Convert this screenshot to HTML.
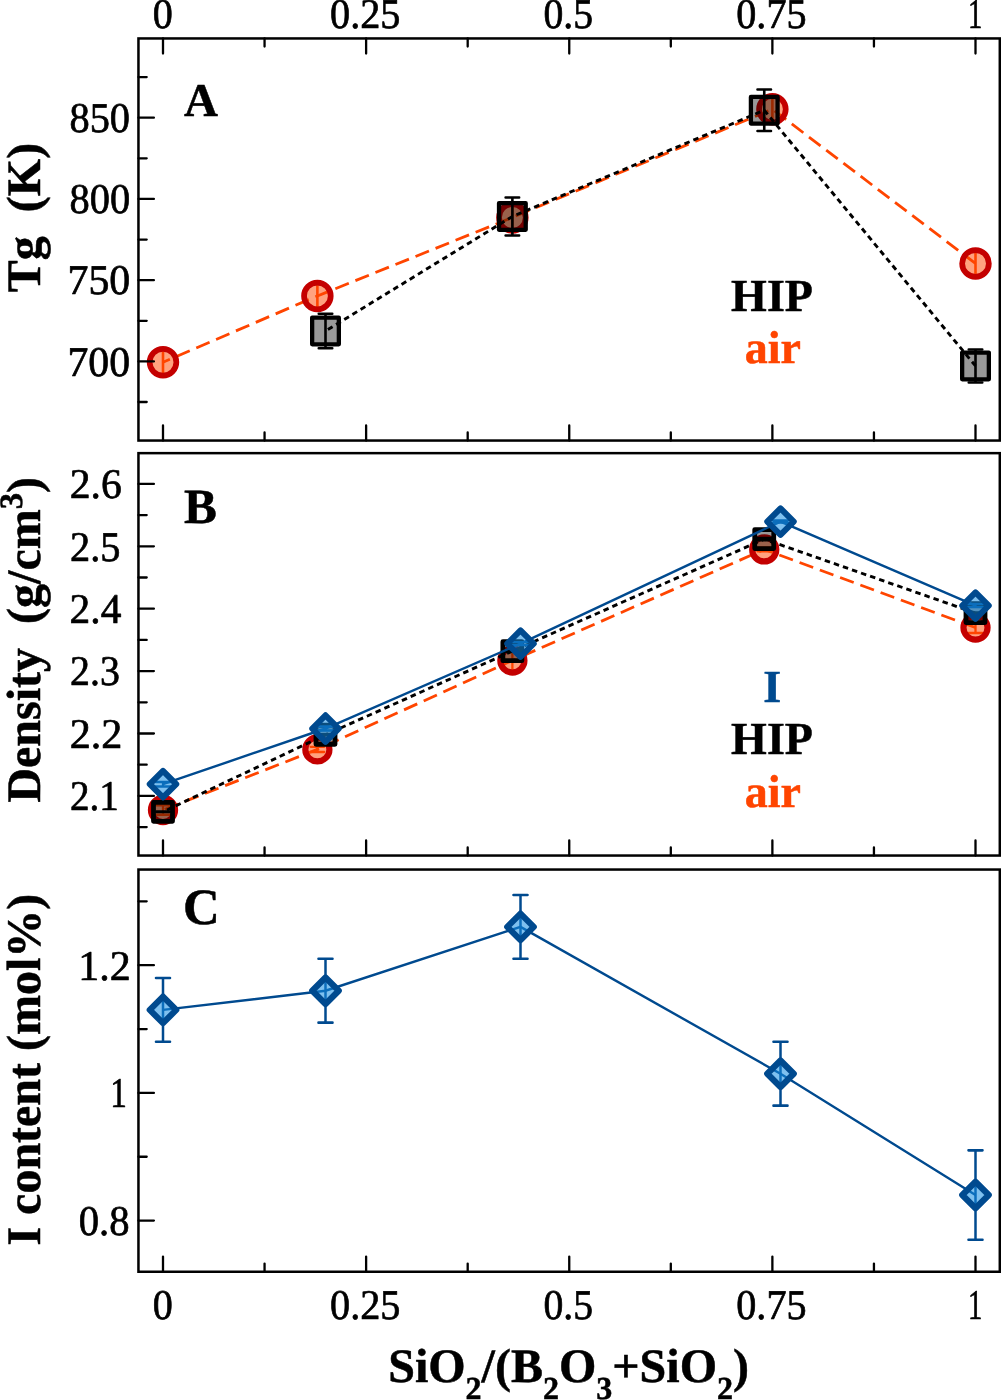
<!DOCTYPE html>
<html><head><meta charset="utf-8"><title>Chart</title>
<style>
html,body{margin:0;padding:0;background:#fff;}
body{width:1001px;height:1400px;overflow:hidden;}
svg{display:block;will-change:transform;}
text{font-family:"Liberation Serif",serif;text-rendering:geometricPrecision;}
</style></head><body>
<svg width="1001" height="1400" viewBox="0 0 1001 1400">
<rect width="1001" height="1400" fill="#fff"/>
<clipPath id="clipA"><rect x="138.45" y="38.45" width="861.35" height="402.1"/></clipPath>
<clipPath id="clipB"><rect x="138.45" y="453.15" width="861.35" height="402.4"/></clipPath>
<clipPath id="clipC"><rect x="138.45" y="869.55" width="861.35" height="402.2"/></clipPath>
<g clip-path="url(#clipA)">
<path d="M163 362.22L317.38 295.93L512.38 217.46L772.38 109.25L975.5 263.44" stroke="#ff4500" stroke-width="2.8" fill="none" stroke-dasharray="14.5 7.1" stroke-dashoffset="7"/>
<path d="M163 351.22V373.22" stroke="#ff4500" stroke-width="2.6" fill="none"/>
<path d="M317.38 284.93V306.93" stroke="#ff4500" stroke-width="2.6" fill="none"/>
<path d="M512.38 206.46V228.46" stroke="#ff4500" stroke-width="2.6" fill="none"/>
<path d="M772.38 98.25V120.25" stroke="#ff4500" stroke-width="2.6" fill="none"/>
<path d="M975.5 252.44V274.44" stroke="#ff4500" stroke-width="2.6" fill="none"/>
<circle cx="163" cy="362.22" r="13.35" fill="rgba(255,69,0,0.5)" stroke="#c40000" stroke-width="5.7"/>
<circle cx="317.38" cy="295.93" r="13.35" fill="rgba(255,69,0,0.5)" stroke="#c40000" stroke-width="5.7"/>
<circle cx="512.38" cy="217.46" r="13.35" fill="rgba(255,69,0,0.5)" stroke="#c40000" stroke-width="5.7"/>
<circle cx="772.38" cy="109.25" r="13.35" fill="rgba(255,69,0,0.5)" stroke="#c40000" stroke-width="5.7"/>
<circle cx="975.5" cy="263.44" r="13.35" fill="rgba(255,69,0,0.5)" stroke="#c40000" stroke-width="5.7"/>
<path d="M325.5 331.02L512.38 216.48L764.25 110.23L975.5 365.95" stroke="#000" stroke-width="2.9" fill="none" stroke-dasharray="5.5 4.1" stroke-dashoffset="6.8"/>
<path d="M325.5 313.8V348.24" stroke="#000" stroke-width="2.6" fill="none"/>
<path d="M318.7 313.8H332.3M318.7 348.24H332.3" stroke="#000" stroke-width="2.5" fill="none" stroke-linecap="round"/>
<path d="M512.38 197.47V235.49" stroke="#000" stroke-width="2.6" fill="none"/>
<path d="M505.57 197.47H519.17M505.57 235.49H519.17" stroke="#000" stroke-width="2.5" fill="none" stroke-linecap="round"/>
<path d="M764.25 89.43V131.02" stroke="#000" stroke-width="2.6" fill="none"/>
<path d="M757.45 89.43H771.05M757.45 131.02H771.05" stroke="#000" stroke-width="2.5" fill="none" stroke-linecap="round"/>
<path d="M975.5 349.38V382.53" stroke="#000" stroke-width="2.6" fill="none"/>
<path d="M968.7 349.38H982.3M968.7 382.53H982.3" stroke="#000" stroke-width="2.5" fill="none" stroke-linecap="round"/>
<rect x="312.15" y="317.67" width="26.7" height="26.7" fill="rgba(0,0,0,0.4)" stroke="#000" stroke-width="4.3" stroke-linejoin="round"/>
<rect x="499.02" y="203.13" width="26.7" height="26.7" fill="rgba(0,0,0,0.4)" stroke="#000" stroke-width="4.3" stroke-linejoin="round"/>
<rect x="750.9" y="96.88" width="26.7" height="26.7" fill="rgba(0,0,0,0.4)" stroke="#000" stroke-width="4.3" stroke-linejoin="round"/>
<rect x="962.15" y="352.6" width="26.7" height="26.7" fill="rgba(0,0,0,0.4)" stroke="#000" stroke-width="4.3" stroke-linejoin="round"/>
</g>
<g clip-path="url(#clipB)">
<path d="M163 810L317.38 749.41L512.38 660.49L764.25 549.42L975.5 627.61" stroke="#ff4500" stroke-width="2.8" fill="none" stroke-dasharray="14.5 7.1" stroke-dashoffset="19.7"/>
<path d="M163 805.25V814.75" stroke="#ff4500" stroke-width="2.3" fill="none"/>
<path d="M156.2 805.25H169.8M156.2 814.75H169.8" stroke="#ff4500" stroke-width="2.3" fill="none" stroke-linecap="round"/>
<path d="M317.38 746.81V752.01" stroke="#ff4500" stroke-width="2.3" fill="none"/>
<path d="M310.57 746.81H324.18M310.57 752.01H324.18" stroke="#ff4500" stroke-width="2.3" fill="none" stroke-linecap="round"/>
<path d="M512.38 650.49V670.49" stroke="#ff4500" stroke-width="2.3" fill="none"/>
<path d="M505.57 650.49H519.17M505.57 670.49H519.17" stroke="#ff4500" stroke-width="2.3" fill="none" stroke-linecap="round"/>
<path d="M764.25 547.42V551.42" stroke="#ff4500" stroke-width="2.3" fill="none"/>
<path d="M757.45 547.42H771.05M757.45 551.42H771.05" stroke="#ff4500" stroke-width="2.3" fill="none" stroke-linecap="round"/>
<path d="M975.5 622.21V633.01" stroke="#ff4500" stroke-width="2.3" fill="none"/>
<path d="M968.7 622.21H982.3M968.7 633.01H982.3" stroke="#ff4500" stroke-width="2.3" fill="none" stroke-linecap="round"/>
<circle cx="163" cy="810" r="12.05" fill="rgba(255,69,0,0.5)" stroke="#c40000" stroke-width="6.2"/>
<circle cx="317.38" cy="749.41" r="12.05" fill="rgba(255,69,0,0.5)" stroke="#c40000" stroke-width="6.2"/>
<circle cx="512.38" cy="660.49" r="12.05" fill="rgba(255,69,0,0.5)" stroke="#c40000" stroke-width="6.2"/>
<circle cx="764.25" cy="549.42" r="12.05" fill="rgba(255,69,0,0.5)" stroke="#c40000" stroke-width="6.2"/>
<circle cx="975.5" cy="627.61" r="12.05" fill="rgba(255,69,0,0.5)" stroke="#c40000" stroke-width="6.2"/>
<path d="M163 811.87L325.5 734.75L512.38 651.13L764.25 539.12L975.5 613.07" stroke="#000" stroke-width="2.9" fill="none" stroke-dasharray="5.5 4.1" stroke-dashoffset="5.2"/>
<path d="M163 811.62V812.12" stroke="#000" stroke-width="2.3" fill="none"/>
<path d="M156.2 811.62H169.8M156.2 812.12H169.8" stroke="#000" stroke-width="2.5" fill="none" stroke-linecap="round"/>
<path d="M325.5 734.25V735.25" stroke="#000" stroke-width="2.3" fill="none"/>
<path d="M318.7 734.25H332.3M318.7 735.25H332.3" stroke="#000" stroke-width="2.5" fill="none" stroke-linecap="round"/>
<path d="M512.38 650.63V651.63" stroke="#000" stroke-width="2.3" fill="none"/>
<path d="M505.57 650.63H519.17M505.57 651.63H519.17" stroke="#000" stroke-width="2.5" fill="none" stroke-linecap="round"/>
<path d="M764.25 537.92V540.32" stroke="#000" stroke-width="2.3" fill="none"/>
<path d="M757.45 537.92H771.05M757.45 540.32H771.05" stroke="#000" stroke-width="2.5" fill="none" stroke-linecap="round"/>
<path d="M975.5 612.57V613.57" stroke="#000" stroke-width="2.3" fill="none"/>
<path d="M968.7 612.57H982.3M968.7 613.57H982.3" stroke="#000" stroke-width="2.5" fill="none" stroke-linecap="round"/>
<rect x="153.5" y="802.37" width="19" height="19" fill="rgba(0,0,0,0.4)" stroke="#000" stroke-width="4.8" stroke-linejoin="round"/>
<rect x="316" y="725.25" width="19" height="19" fill="rgba(0,0,0,0.4)" stroke="#000" stroke-width="4.8" stroke-linejoin="round"/>
<rect x="502.88" y="641.63" width="19" height="19" fill="rgba(0,0,0,0.4)" stroke="#000" stroke-width="4.8" stroke-linejoin="round"/>
<rect x="754.75" y="529.62" width="19" height="19" fill="rgba(0,0,0,0.4)" stroke="#000" stroke-width="4.8" stroke-linejoin="round"/>
<rect x="966" y="603.57" width="19" height="19" fill="rgba(0,0,0,0.4)" stroke="#000" stroke-width="4.8" stroke-linejoin="round"/>
<path d="M163 784.23L325.5 728.51L520.5 643.64L780.5 521.59L975.5 605.58" stroke="#004a8f" stroke-width="2.4" fill="none"/>
<path d="M163 781.98V786.48" stroke="#004a8f" stroke-width="2.3" fill="none"/>
<path d="M155.5 781.98H170.5M155.5 786.48H170.5" stroke="#004a8f" stroke-width="2.3" fill="none" stroke-linecap="round"/>
<path d="M325.5 726.51V730.51" stroke="#004a8f" stroke-width="2.3" fill="none"/>
<path d="M318 726.51H333M318 730.51H333" stroke="#004a8f" stroke-width="2.3" fill="none" stroke-linecap="round"/>
<path d="M520.5 642.14V645.14" stroke="#004a8f" stroke-width="2.3" fill="none"/>
<path d="M513 642.14H528M513 645.14H528" stroke="#004a8f" stroke-width="2.3" fill="none" stroke-linecap="round"/>
<path d="M780.5 520.49V522.69" stroke="#004a8f" stroke-width="2.3" fill="none"/>
<path d="M773 520.49H788M773 522.69H788" stroke="#004a8f" stroke-width="2.3" fill="none" stroke-linecap="round"/>
<path d="M975.5 603.98V607.18" stroke="#004a8f" stroke-width="2.3" fill="none"/>
<path d="M968 603.98H983M968 607.18H983" stroke="#004a8f" stroke-width="2.3" fill="none" stroke-linecap="round"/>
<path d="M163 770.98L176.25 784.23L163 797.48L149.75 784.23Z" fill="rgba(20,140,225,0.55)" stroke="#004a8f" stroke-width="6.0" stroke-linejoin="round"/>
<path d="M325.5 715.26L338.75 728.51L325.5 741.76L312.25 728.51Z" fill="rgba(20,140,225,0.55)" stroke="#004a8f" stroke-width="6.0" stroke-linejoin="round"/>
<path d="M520.5 630.39L533.75 643.64L520.5 656.89L507.25 643.64Z" fill="rgba(20,140,225,0.55)" stroke="#004a8f" stroke-width="6.0" stroke-linejoin="round"/>
<path d="M780.5 508.34L793.75 521.59L780.5 534.84L767.25 521.59Z" fill="rgba(20,140,225,0.55)" stroke="#004a8f" stroke-width="6.0" stroke-linejoin="round"/>
<path d="M975.5 592.33L988.75 605.58L975.5 618.83L962.25 605.58Z" fill="rgba(20,140,225,0.55)" stroke="#004a8f" stroke-width="6.0" stroke-linejoin="round"/>
</g>
<g clip-path="url(#clipC)">
<path d="M163 1009.9L325.5 990.74L520.5 926.89L780.5 1073.75L975.5 1195.06" stroke="#004a8f" stroke-width="2.4" fill="none"/>
<path d="M163 977.97V1041.82" stroke="#004a8f" stroke-width="2.5" fill="none"/>
<path d="M156 977.97H170M156 1041.82H170" stroke="#004a8f" stroke-width="2.6" fill="none" stroke-linecap="round"/>
<path d="M325.5 958.82V1022.67" stroke="#004a8f" stroke-width="2.5" fill="none"/>
<path d="M318.5 958.82H332.5M318.5 1022.67H332.5" stroke="#004a8f" stroke-width="2.6" fill="none" stroke-linecap="round"/>
<path d="M520.5 894.97V958.82" stroke="#004a8f" stroke-width="2.5" fill="none"/>
<path d="M513.5 894.97H527.5M513.5 958.82H527.5" stroke="#004a8f" stroke-width="2.6" fill="none" stroke-linecap="round"/>
<path d="M780.5 1041.82V1105.67" stroke="#004a8f" stroke-width="2.5" fill="none"/>
<path d="M773.5 1041.82H787.5M773.5 1105.67H787.5" stroke="#004a8f" stroke-width="2.6" fill="none" stroke-linecap="round"/>
<path d="M975.5 1150.37V1239.76" stroke="#004a8f" stroke-width="2.5" fill="none"/>
<path d="M968.5 1150.37H982.5M968.5 1239.76H982.5" stroke="#004a8f" stroke-width="2.6" fill="none" stroke-linecap="round"/>
<path d="M163 996.65L176.25 1009.9L163 1023.15L149.75 1009.9Z" fill="rgba(20,140,225,0.55)" stroke="#004a8f" stroke-width="6.2" stroke-linejoin="round"/>
<path d="M325.5 977.49L338.75 990.74L325.5 1003.99L312.25 990.74Z" fill="rgba(20,140,225,0.55)" stroke="#004a8f" stroke-width="6.2" stroke-linejoin="round"/>
<path d="M520.5 913.64L533.75 926.89L520.5 940.14L507.25 926.89Z" fill="rgba(20,140,225,0.55)" stroke="#004a8f" stroke-width="6.2" stroke-linejoin="round"/>
<path d="M780.5 1060.5L793.75 1073.75L780.5 1087L767.25 1073.75Z" fill="rgba(20,140,225,0.55)" stroke="#004a8f" stroke-width="6.2" stroke-linejoin="round"/>
<path d="M975.5 1181.81L988.75 1195.06L975.5 1208.31L962.25 1195.06Z" fill="rgba(20,140,225,0.55)" stroke="#004a8f" stroke-width="6.2" stroke-linejoin="round"/>
</g>
<rect x="138.45" y="38.45" width="861.35" height="402.1" fill="none" stroke="#000" stroke-width="2.5"/>
<path d="M163 38.45V53.6M163 440.55V425.4M264.56 38.45V46.6M264.56 440.55V432.4M366.12 38.45V53.6M366.12 440.55V425.4M467.69 38.45V46.6M467.69 440.55V432.4M569.25 38.45V53.6M569.25 440.55V425.4M670.81 38.45V46.6M670.81 440.55V432.4M772.38 38.45V53.6M772.38 440.55V425.4M873.94 38.45V46.6M873.94 440.55V432.4M975.5 38.45V53.6M975.5 440.55V425.4M138.45 117.7H153.9M138.45 198.94H153.9M138.45 280.17H153.9M138.45 361.41H153.9M138.45 77.08H146.7M138.45 158.32H146.7M138.45 239.55H146.7M138.45 320.79H146.7M138.45 402.02H146.7" stroke="#000" stroke-width="2.3" fill="none" stroke-linecap="round"/>
<rect x="138.45" y="453.15" width="861.35" height="402.4" fill="none" stroke="#000" stroke-width="2.5"/>
<path d="M163 855.55V840.4M264.56 855.55V847.4M366.12 855.55V840.4M467.69 855.55V847.4M569.25 855.55V840.4M670.81 855.55V847.4M772.38 855.55V840.4M873.94 855.55V847.4M975.5 855.55V840.4M138.45 483.9H153.9M138.45 546.3H153.9M138.45 608.7H153.9M138.45 671.1H153.9M138.45 733.5H153.9M138.45 795.9H153.9M138.45 515.1H146.7M138.45 577.5H146.7M138.45 639.9H146.7M138.45 702.3H146.7M138.45 764.7H146.7M138.45 827.1H146.7" stroke="#000" stroke-width="2.3" fill="none" stroke-linecap="round"/>
<rect x="138.45" y="869.55" width="861.35" height="402.2" fill="none" stroke="#000" stroke-width="2.5"/>
<path d="M163 1271.75V1256.6M264.56 1271.75V1263.6M366.12 1271.75V1256.6M467.69 1271.75V1263.6M569.25 1271.75V1256.6M670.81 1271.75V1263.6M772.38 1271.75V1256.6M873.94 1271.75V1263.6M975.5 1271.75V1256.6M138.45 965.2H153.9M138.45 1092.9H153.9M138.45 1220.6H153.9M138.45 901.35H146.7M138.45 1029.05H146.7M138.45 1156.75H146.7" stroke="#000" stroke-width="2.3" fill="none" stroke-linecap="round"/>
<text transform="translate(152.87 28.25) scale(0.9482 1)" font-family="Liberation Serif" font-size="42.3" stroke="#000" stroke-width="0.7" stroke-linejoin="round">0</text>
<text transform="translate(152.87 1319.25) scale(0.9482 1)" font-family="Liberation Serif" font-size="42.3" stroke="#000" stroke-width="0.7" stroke-linejoin="round">0</text>
<text transform="translate(330.07 28.25) scale(0.9511 1)" font-family="Liberation Serif" font-size="42.3" stroke="#000" stroke-width="0.7" stroke-linejoin="round">0.25</text>
<text transform="translate(330.07 1319.25) scale(0.9511 1)" font-family="Liberation Serif" font-size="42.3" stroke="#000" stroke-width="0.7" stroke-linejoin="round">0.25</text>
<text transform="translate(543.49 28.25) scale(0.9393 1)" font-family="Liberation Serif" font-size="42.3" stroke="#000" stroke-width="0.7" stroke-linejoin="round">0.5</text>
<text transform="translate(543.49 1319.25) scale(0.9393 1)" font-family="Liberation Serif" font-size="42.3" stroke="#000" stroke-width="0.7" stroke-linejoin="round">0.5</text>
<text transform="translate(736.27 28.25) scale(0.9497 1)" font-family="Liberation Serif" font-size="42.3" stroke="#000" stroke-width="0.7" stroke-linejoin="round">0.75</text>
<text transform="translate(736.27 1319.25) scale(0.9497 1)" font-family="Liberation Serif" font-size="42.3" stroke="#000" stroke-width="0.7" stroke-linejoin="round">0.75</text>
<text transform="translate(967.88 28.25) scale(0.6782 1)" font-family="Liberation Serif" font-size="42.3" stroke="#000" stroke-width="0.7" stroke-linejoin="round">1</text>
<text transform="translate(967.88 1319.25) scale(0.6782 1)" font-family="Liberation Serif" font-size="42.3" stroke="#000" stroke-width="0.7" stroke-linejoin="round">1</text>
<text transform="translate(69.46 132.00) scale(0.9547 1)" font-family="Liberation Serif" font-size="42.3" stroke="#000" stroke-width="0.7" stroke-linejoin="round">850</text>
<text transform="translate(69.56 213.24) scale(0.9564 1)" font-family="Liberation Serif" font-size="42.3" stroke="#000" stroke-width="0.7" stroke-linejoin="round">800</text>
<text transform="translate(67.44 294.47) scale(0.9907 1)" font-family="Liberation Serif" font-size="42.3" stroke="#000" stroke-width="0.7" stroke-linejoin="round">750</text>
<text transform="translate(67.45 375.71) scale(0.9873 1)" font-family="Liberation Serif" font-size="42.3" stroke="#000" stroke-width="0.7" stroke-linejoin="round">700</text>
<text transform="translate(69.77 498.20) scale(0.9848 1)" font-family="Liberation Serif" font-size="42.3" stroke="#000" stroke-width="0.7" stroke-linejoin="round">2.6</text>
<text transform="translate(70.03 560.60) scale(0.9541 1)" font-family="Liberation Serif" font-size="42.3" stroke="#000" stroke-width="0.7" stroke-linejoin="round">2.5</text>
<text transform="translate(69.58 623.00) scale(0.9790 1)" font-family="Liberation Serif" font-size="42.3" stroke="#000" stroke-width="0.7" stroke-linejoin="round">2.4</text>
<text transform="translate(70.05 685.40) scale(0.9420 1)" font-family="Liberation Serif" font-size="42.3" stroke="#000" stroke-width="0.7" stroke-linejoin="round">2.3</text>
<text transform="translate(69.75 747.80) scale(0.9963 1)" font-family="Liberation Serif" font-size="42.3" stroke="#000" stroke-width="0.7" stroke-linejoin="round">2.2</text>
<text transform="translate(69.88 810.20) scale(0.9242 1)" font-family="Liberation Serif" font-size="42.3" stroke="#000" stroke-width="0.7" stroke-linejoin="round">2.1</text>
<text transform="translate(78.32 979.50) scale(0.9910 1)" font-family="Liberation Serif" font-size="42.3" stroke="#000" stroke-width="0.7" stroke-linejoin="round">1.2</text>
<text transform="translate(110.18 1107.20) scale(0.7857 1)" font-family="Liberation Serif" font-size="42.3" stroke="#000" stroke-width="0.7" stroke-linejoin="round">1</text>
<text transform="translate(78.75 1234.90) scale(0.9607 1)" font-family="Liberation Serif" font-size="42.3" stroke="#000" stroke-width="0.7" stroke-linejoin="round">0.8</text>
<text x="184" y="115.8" font-family="Liberation Serif" font-weight="bold" stroke="#000" stroke-width="0.5" stroke-linejoin="round" font-size="47">A</text>
<text x="184.0" y="522.7" font-family="Liberation Serif" font-weight="bold" stroke="#000" stroke-width="0.5" stroke-linejoin="round" font-size="49.3">B</text>
<text x="182.9" y="924.3" font-family="Liberation Serif" font-weight="bold" stroke="#000" stroke-width="0.5" stroke-linejoin="round" font-size="50.8">C</text>
<text x="772" y="310.6" font-family="Liberation Serif" font-weight="bold" stroke="#000" stroke-width="0.5" stroke-linejoin="round" font-size="46" text-anchor="middle">HIP</text>
<text x="772.9" y="363.3" font-family="Liberation Serif" font-weight="bold" stroke="#ff4500" stroke-width="0.5" stroke-linejoin="round" font-size="46" text-anchor="middle" fill="#ff4500">air</text>
<text x="772.3" y="701.5" font-family="Liberation Serif" font-weight="bold" stroke="#004a8f" stroke-width="0.5" stroke-linejoin="round" font-size="46" text-anchor="middle" fill="#004a8f">I</text>
<text x="772" y="754.2" font-family="Liberation Serif" font-weight="bold" stroke="#000" stroke-width="0.5" stroke-linejoin="round" font-size="46" text-anchor="middle">HIP</text>
<text x="772.9" y="806.6" font-family="Liberation Serif" font-weight="bold" stroke="#ff4500" stroke-width="0.5" stroke-linejoin="round" font-size="46" text-anchor="middle" fill="#ff4500">air</text>
<text transform="translate(40.2 292.2) rotate(-90)" font-family="Liberation Serif" font-weight="bold" stroke="#000" stroke-width="0.5" stroke-linejoin="round" font-size="48" xml:space="preserve">Tg  (K)</text>
<text transform="translate(40.2 802.6) rotate(-90)" font-family="Liberation Serif" font-weight="bold" stroke="#000" stroke-width="0.5" stroke-linejoin="round" font-size="48" xml:space="preserve">Density  (g/cm<tspan font-size="32.5" dy="-18">3</tspan><tspan dy="18">)</tspan></text>
<text transform="translate(40.2 1245.6) rotate(-90)" font-family="Liberation Serif" font-weight="bold" stroke="#000" stroke-width="0.5" stroke-linejoin="round" font-size="48" xml:space="preserve">I content (mol%)</text>
<text x="388.2" y="1382.3" font-family="Liberation Serif" font-weight="bold" stroke="#000" stroke-width="0.5" stroke-linejoin="round" font-size="48">SiO<tspan font-size="32" dy="17">2</tspan><tspan dy="-17">/(B</tspan><tspan font-size="32" dy="17">2</tspan><tspan dy="-17">O</tspan><tspan font-size="32" dy="17">3</tspan><tspan dy="-17">+SiO</tspan><tspan font-size="32" dy="17">2</tspan><tspan dy="-17">)</tspan></text>
</svg>
</body></html>
